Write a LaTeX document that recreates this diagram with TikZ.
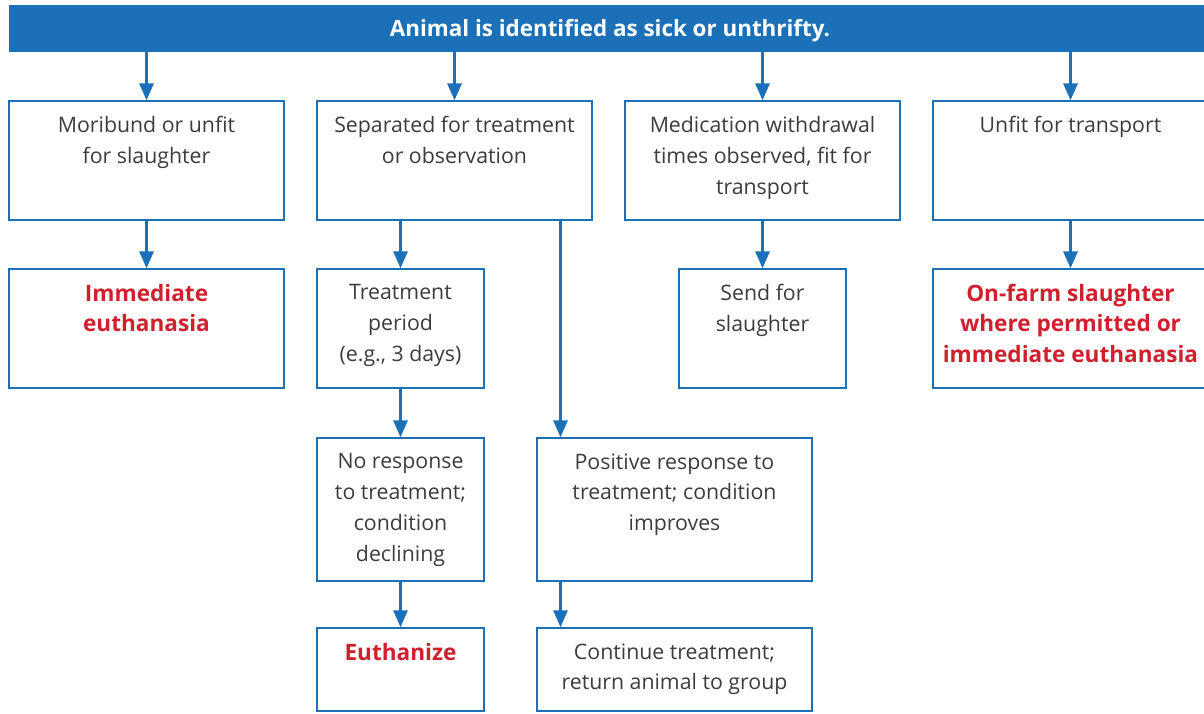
\documentclass[tikz,border=0pt]{standalone}
\usepackage{fontspec}
\setmainfont{Open Sans}
\usetikzlibrary{arrows.meta,calc}
\definecolor{fblue}{HTML}{1B70B7}
\definecolor{fred}{HTML}{D0202E}
\definecolor{ftext}{HTML}{3C3C3C}
\begin{document}
\begin{tikzpicture}[x=1pt,y=-1pt,
  box/.style={draw=fblue,line width=1.4pt,fill=white,inner sep=0pt,minimum width=#1},
  box/.default=275pt,
  txt/.style={anchor=north,inner sep=0pt,align=center,text=ftext,font=\fontsize{21.3}{30.8}\selectfont},
  rtxt/.style={anchor=north,inner sep=0pt,align=center,text=fred,font=\fontsize{22.6}{30.6}\selectfont\bfseries},
  arr/.style={draw=fblue,line width=3pt,-{Triangle[width=14pt,length=17pt]}}]
\clip (0,0) rectangle (1204,713);
\fill[white] (0,0) rectangle (1204,713);
% banner
\node[fill=fblue,minimum width=1210pt,minimum height=47pt,inner sep=0pt] (banner) at (614,28.5) {};
\node[inner sep=0pt,text=white,font=\fontsize{22.4}{26}\selectfont\bfseries] (bannertxt) at (610,31) {Animal is identified as sick or unthrifty.};
% row 1
\node[box,minimum height=119pt] (b1) at (146.5,160.5) {};
\node[box,minimum height=119pt] (b2) at (454.5,160.5) {};
\node[box,minimum height=119pt] (b3) at (762.5,160.5) {};
\node[box,minimum height=119pt] (b4) at (1070.5,160.5) {};
% row 2
\node[box,minimum height=119pt] (c1) at (146.5,328.5) {};
\node[box=167pt,minimum height=119pt] (c2) at (400.5,328.5) {};
\node[box=167pt,minimum height=119pt] (c3) at (762.5,328.5) {};
\node[box,minimum height=119pt] (c4) at (1070.5,328.5) {};
% row 3
\node[box=167pt,minimum height=143pt] (d1) at (400.5,509.5) {};
\node[box,minimum height=143pt] (d2) at (674.5,509.5) {};
% row 4
\node[box=167pt,minimum height=83pt] (e1) at (400.5,669.5) {};
\node[box,minimum height=83pt] (e2) at (674.5,669.5) {};
% texts
\node[txt] (t1) at ([yshift=-16pt]b1.north) {Moribund or unfit\\for slaughter};
\node[txt] (t2) at ([yshift=-16pt]b2.north) {Separated for treatment\\or observation};
\node[txt] (t3) at ([yshift=-16pt]b3.north) {Medication withdrawal\\times observed, fit for\\transport};
\node[txt] (t4) at ([yshift=-16pt]b4.north) {Unfit for transport};
\node[rtxt] (u1) at ([yshift=-15.5pt]c1.north) {Immediate\\euthanasia};
\node[txt] (u2) at ([yshift=-16pt]c2.north) {Treatment\\period\\(e.g., 3 days)};
\node[txt] (u3) at ([yshift=-16pt]c3.north) {Send for\\slaughter};
\node[rtxt] (u4) at ([yshift=-15.5pt]c4.north) {On-farm slaughter\\where permitted or\\immediate euthanasia};
\node[txt] (v1) at ([yshift=-16pt]d1.north) {No response\\to treatment;\\condition\\declining};
\node[txt] (v2) at ([yshift=-16pt]d2.north) {Positive response to\\treatment; condition\\improves};
\node[rtxt] (w1) at ([yshift=-15.5pt]e1.north) {Euthanize};
\node[txt] (w2) at ([yshift=-16pt]e2.north) {Continue treatment;\\return animal to group};
% arrows
\draw[arr] (banner.south -| b1.north) -- (b1.north);
\draw[arr] (banner.south -| b2.north) -- (b2.north);
\draw[arr] (banner.south -| b3.north) -- (b3.north);
\draw[arr] (banner.south -| b4.north) -- (b4.north);
\draw[arr] (b1) -- (c1);
\draw[arr] (b2.south -| c2.north) -- (c2.north);
\draw[arr] (b3) -- (c3);
\draw[arr] (b4) -- (c4);
\draw[arr] (c2) -- (d1);
\draw[arr] (d1) -- (e1);
\coordinate (split) at (560.5,0);
\draw[arr] (b2.south -| split) -- (d2.north -| split);
\draw[arr] (d2.south -| split) -- (e2.north -| split);
\end{tikzpicture}
\end{document}
